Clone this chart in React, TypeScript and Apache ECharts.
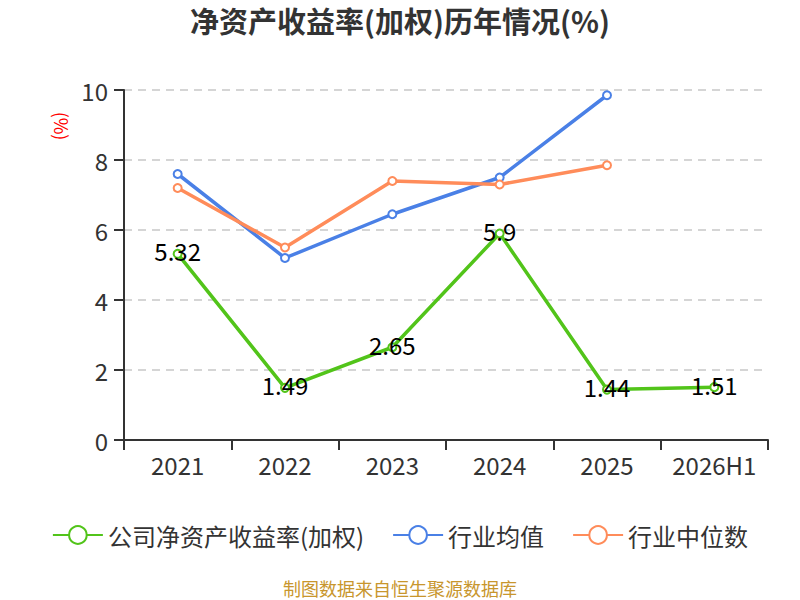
import React, { useEffect, useRef } from "react";
import * as echarts from "echarts";

const categories = ["2021", "2022", "2023", "2024", "2025", "2026H1"];
const companyRoe = [5.32, 1.49, 2.65, 5.9, 1.44, 1.51];
const industryAvg = [7.6, 5.2, 6.45, 7.5, 9.85, null];
const industryMedian = [7.2, 5.5, 7.4, 7.3, 7.85, null];
const seriesNames = ["公司净资产收益率(加权)", "行业均值", "行业中位数"];
const titleText = "净资产收益率(加权)历年情况(%)";
const unitText = "(%)";
const sourceText = "制图数据来自恒生聚源数据库";

const FONT = "'Noto Sans CJK SC', 'Noto Sans', sans-serif";

export default function App() {
  const ref = useRef<HTMLDivElement>(null);
  useEffect(() => {
    if (!ref.current) return;
    const chart = echarts.init(ref.current, undefined, { renderer: "svg" });
    const lineCommon = {
      type: "line" as const,
      symbol: "emptyCircle",
      symbolSize: 8,
    };
    chart.setOption({
      animation: false,
      textStyle: { fontFamily: FONT },
      title: {
        text: titleText,
        left: "center",
        top: 0,
        textStyle: { fontSize: 29, fontWeight: "bold", color: "#333", fontFamily: FONT },
      },
      grid: { left: 124, right: 32, top: 90, bottom: 160 },
      legend: {
        top: 518,
        left: "center",
        itemWidth: 50,
        itemHeight: 22,
        itemGap: 28,
        textStyle: { fontSize: 24, color: "#333", fontFamily: FONT },
        data: seriesNames,
      },
      xAxis: {
        type: "category",
        data: categories,
        boundaryGap: true,
        axisLine: { lineStyle: { color: "#333", width: 2 } },
        axisTick: { show: true, length: 10, lineStyle: { color: "#333", width: 2 } },
        axisLabel: { fontSize: 24, color: "#333", margin: 12, interval: 0, fontFamily: FONT },
      },
      yAxis: {
        type: "value",
        min: 0,
        max: 10,
        interval: 2,
        axisLine: { show: true, lineStyle: { color: "#333", width: 2 } },
        axisTick: { show: true, length: 10, lineStyle: { color: "#333", width: 2 } },
        axisLabel: { fontSize: 24, color: "#333", margin: 16, fontFamily: FONT },
        splitLine: { lineStyle: { type: [8, 6], color: "#c8c8c8", width: 1.5 } },
      },
      graphic: [
        {
          type: "text",
          x: 62,
          y: 126,
          rotation: -Math.PI / 2,
          style: {
            text: unitText,
            fill: "#ff0000",
            fontSize: 18,
            fontFamily: FONT,
            align: "center",
            verticalAlign: "middle",
          },
        },
        {
          type: "text",
          x: 400,
          y: 588,
          style: {
            text: sourceText,
            fill: "#c8962d",
            fontSize: 18,
            fontFamily: FONT,
            align: "center",
            verticalAlign: "middle",
          },
        },
      ],
      series: [
        {
          ...lineCommon,
          name: seriesNames[0],
          data: companyRoe,
          itemStyle: { color: "#52c41a" },
          lineStyle: { width: 3.5, color: "#52c41a" },
          z: 3,
          label: {
            show: true,
            position: "inside",
            offset: [0, -3],
            color: "#000",
            fontSize: 24,
            fontFamily: FONT,
          },
        },
        {
          ...lineCommon,
          name: seriesNames[1],
          data: industryAvg,
          itemStyle: { color: "#4a80e6" },
          lineStyle: { width: 3.5, color: "#4a80e6" },
        },
        {
          ...lineCommon,
          name: seriesNames[2],
          data: industryMedian,
          itemStyle: { color: "#ff8c5a" },
          lineStyle: { width: 3.5, color: "#ff8c5a" },
        },
      ],
    });
    return () => chart.dispose();
  }, []);
  return (
    <div
      ref={ref}
      style={{ position: "absolute", left: 0, top: 0, width: 800, height: 600 }}
    />
  );
}
